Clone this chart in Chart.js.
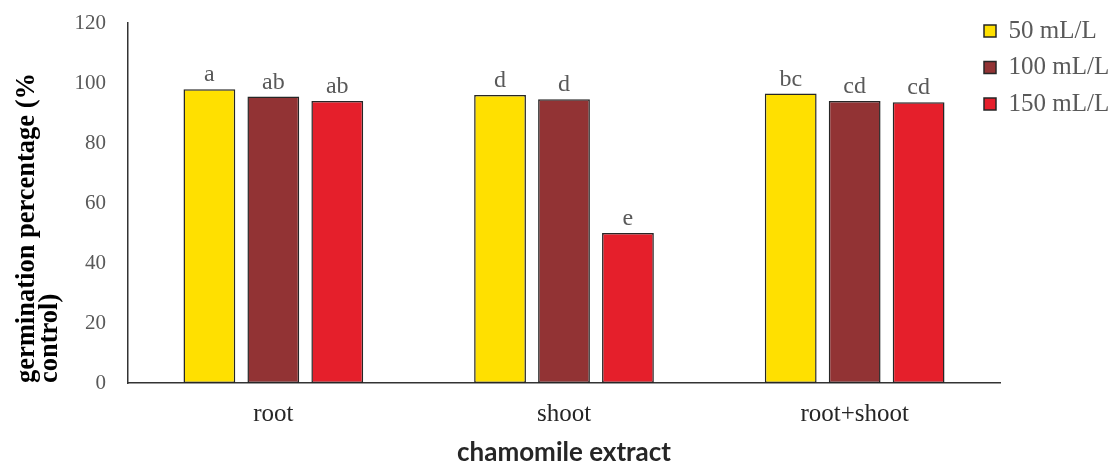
<!DOCTYPE html>
<html lang="en">
  <head>
    <meta charset="UTF-8" />
    <script src="https://cdn.jsdelivr.net/npm/chart.js@4.4.0/dist/chart.umd.min.js"></script>
    <title>germination</title>
    <style>
      body {
        margin: 0;
        padding: 0;
        background: white;
      }

      .container {
        width: 1110px;
        height: 461px;
      }
    </style>
  </head>
  <body>
    <div class="container">
      <canvas id="chart"></canvas>
    </div>
    <script>
      const categories = ['root', 'shoot', 'root+shoot']
      const seriesNames = ['50 mL/L', '100 mL/L', '150 mL/L']
      const values50 = [97.9, 96.0, 96.5]
      const values100 = [95.5, 94.6, 94.0]
      const values150 = [94.0, 50.0, 93.6]
      const letters50 = ['a', 'd', 'bc']
      const letters100 = ['ab', 'd', 'cd']
      const letters150 = ['ab', 'e', 'cd']
      const yTicks = [0, 20, 40, 60, 80, 100, 120]

      const colors = ['#FFE000', '#923334', '#E51F2B']
      const serif = '"Liberation Serif", "Times New Roman", serif'

      // letters of the significance test, above each bar
      const letterPlugin = {
        id: 'letters',
        afterDatasetsDraw(chart) {
          const ctx = chart.ctx
          const all = [letters50, letters100, letters150]
          ctx.save()
          ctx.font = '24px ' + serif
          ctx.fillStyle = '#595959'
          ctx.textAlign = 'center'
          ctx.textBaseline = 'alphabetic'
          chart.data.datasets.forEach((ds, i) => {
            chart.getDatasetMeta(i).data.forEach((bar, j) => {
              ctx.fillText(all[i][j], bar.x, bar.y - 8)
            })
          })
          ctx.restore()
        },
      }

      // legend sits over the right end of the plot, like the original
      const legendShift = {
        id: 'legendShift',
        afterLayout(chart) {
          const lg = chart.legend
          lg.left = chart.chartArea.right - 27.5
          lg.right = chart.width
          lg.width = lg.right - lg.left
          lg.top = 7
          lg.bottom = lg.top + lg.height
        },
      }

      new Chart(document.getElementById('chart'), {
        type: 'bar',
        data: {
          labels: categories,
          datasets: [values50, values100, values150].map((vals, i) => ({
            label: seriesNames[i],
            data: vals,
            backgroundColor: colors[i],
            borderColor: '#262626',
            borderWidth: 1.5,
            borderSkipped: false,
            barPercentage: 0.81,
            categoryPercentage: 0.66,
          })),
        },
        options: {
          responsive: true,
          maintainAspectRatio: false,
          animation: false,
          layout: { padding: { left: 0, right: 0, top: 23, bottom: 0 } },
          plugins: {
            legend: {
              position: 'right',
              align: 'start',
              maxWidth: 110,
              labels: {
                boxWidth: 12,
                boxHeight: 12,
                padding: 11.5,
                color: '#595959',
                font: { family: serif, size: 25 },
              },
            },
            tooltip: { enabled: false },
          },
          scales: {
            x: {
              afterFit(scale) {
                scale.height = 78
              },
              grid: { display: false, drawTicks: false },
              border: { display: true, color: '#333333', width: 1.5 },
              ticks: {
                padding: 16,
                color: '#262626',
                font: { family: serif, size: 25 },
              },
              title: {
                display: true,
                text: 'chamomile extract',
                color: '#262626',
                font: { family: 'Lato, "Open Sans", sans-serif', size: 26, weight: 'bold', lineHeight: '16px' },
                padding: { top: 16, bottom: 0 },
              },
            },
            y: {
              min: 0,
              max: 120,
              afterBuildTicks(axis) {
                axis.ticks = yTicks.map((v) => ({ value: v }))
              },
              afterFit(scale) {
                scale.width = 128
              },
              grid: { display: false, drawTicks: false },
              border: { display: true, color: '#333333', width: 1.5 },
              ticks: {
                padding: 22,
                color: '#595959',
                font: { family: serif, size: 21, lineHeight: '1px' },
              },
              title: {
                display: true,
                align: 'start',
                text: ['germination percentage (%', 'control)'],
                color: '#000000',
                font: { family: serif, size: 26.5, weight: 'bold', lineHeight: '23px' },
                padding: { top: 15.5, bottom: 13 },
              },
            },
          },
        },
        plugins: [letterPlugin, legendShift],
      })
    </script>
  </body>
</html>
